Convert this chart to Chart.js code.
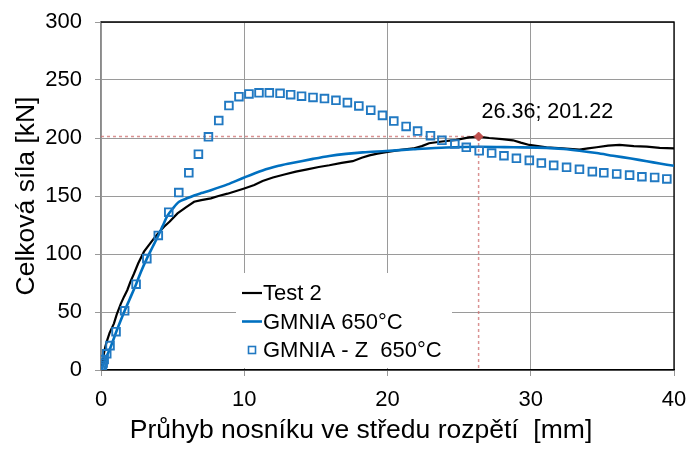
<!DOCTYPE html>
<html>
<head>
<meta charset="utf-8">
<script src="https://cdn.jsdelivr.net/npm/chart.js@4/dist/chart.umd.min.js"></script>
<style>
  html, body { margin: 0; padding: 0; background: #fff; }
  #wrap { width: 689px; height: 450px; }
</style>
</head>
<body>
<div id="wrap"><canvas id="chart" width="689" height="450"></canvas></div>
<script>
// data
const test2X = [0, 0.1, 0.2, 0.3, 0.44, 0.6, 0.9, 1.1, 1.38, 1.6, 1.84, 2.05, 2.3, 2.6, 3.0, 3.3, 3.7, 4.0, 4.4, 4.8, 5.34, 5.9, 6.5, 7.0, 7.67, 8.2, 8.83, 9.5, 10.0, 10.7, 11.28, 12.0, 12.8, 13.6, 14.4, 15.2, 15.94, 16.8, 17.57, 18.2, 18.74, 19.3, 19.9, 20.8, 21.8, 22.4, 22.9, 23.8, 24.8, 25.7, 26.36, 27.1, 28.0, 28.76, 29.3, 29.9, 30.5, 31.1, 32.2, 33.4, 34.0, 34.6, 35.4, 36.2, 37.2, 38.1, 39.0, 40];
const test2Y = [0, 6, 14, 20, 26, 32, 40, 48, 57, 63, 69, 76, 83, 92, 102, 107, 113.5, 118, 123.5, 128, 135, 140, 145, 146.5, 148, 150, 152, 154.5, 156.5, 159.5, 163, 166, 168.5, 171, 173, 175, 176.5, 178.5, 180, 183, 185, 186.5, 187.8, 189.5, 191, 193, 195.5, 197, 198.4, 200.6, 201.22, 200, 199, 198, 196, 194, 193, 192, 191, 190, 191, 192, 193.5, 194, 193, 192.5, 191.5, 191];

const gmniaX = [0, 0.3, 0.68, 1.1, 1.65, 2.0, 2.45, 2.8, 3.2, 3.6, 4.0, 4.3, 4.64, 5.0, 5.45, 6.0, 6.5, 7.0, 7.67, 8.83, 10.0, 11.28, 12.4, 13.15, 14.8, 15.94, 17.1, 18.27, 19.9, 21.8, 24.1, 26.4, 28.8, 31.1, 32.3, 33.4, 34.6, 35.75, 37.0, 38.1, 39.0, 40];
const gmniaY = [0, 9, 20, 34, 51, 61, 74, 85, 96, 106, 116, 124, 133, 139, 145, 148, 150.5, 152.5, 155, 160, 166, 172, 176, 178, 182, 184.5, 186.3, 187.6, 188.8, 190.3, 191.8, 192.4, 192, 191.5, 190.5, 189, 187, 184.7, 182.3, 180, 178, 176];

const gmniaZX = [0, 0.05, 0.1, 0.15, 0.22, 0.4, 0.63, 1.05, 1.65, 2.45, 3.2, 4.0, 4.73, 5.43, 6.13, 6.8, 7.5, 8.22, 8.93, 9.63, 10.33, 11.03, 11.75, 12.5, 13.24, 14.0, 14.8, 15.6, 16.4, 17.2, 18.0, 18.83, 19.65, 20.44, 21.3, 22.1, 23.0, 23.8, 24.7, 25.5, 26.4, 27.27, 28.13, 29.0, 29.9, 30.74, 31.6, 32.5, 33.4, 34.3, 35.1, 36.0, 36.9, 37.76, 38.65, 39.5];
const gmniaZY = [0, 2, 4, 6, 9, 14, 21, 33, 51, 74, 96, 116, 136, 153, 170, 186, 201, 215, 228, 235.6, 238, 239, 239, 238.5, 237.3, 236, 235, 234, 232.5, 230.5, 227.6, 224, 219.5, 214.6, 210, 206, 202, 198, 194.8, 192, 189, 187, 184.7, 182.5, 180.7, 178.4, 176.4, 174.7, 173, 171, 170, 169, 168, 166.6, 166, 164.7];

const peakX = 26.36;
const peakY = 201.22;

const xTicks = [0, 10, 20, 30, 40];
const yTicks = [0, 50, 100, 150, 200, 250, 300];

const seriesNames = ['Test 2', 'GMNIA 650°C', 'GMNIA - Z  650°C'];
const xTitle = 'Průhyb nosníku ve středu rozpětí  [mm]';

const FONT = '"Liberation Sans", Arial, sans-serif';
const BLACK_LINE = '#000000';
const BLUE_LINE = '#0070c0';
const BLUE_MARK = '#2179c2';
const PEAK_RED = '#c0504d';
const DASH_RED = 'rgba(205, 110, 110, 0.75)';

const pts = (xs, ys) => xs.map((x, i) => ({ x: x, y: ys[i] }));

// plot frame, x title, legend box and peak label
const extras = {
    id: 'extras',
    beforeDatasetsDraw(chart) {
        const { ctx, chartArea: a } = chart;
        ctx.save();
        ctx.strokeStyle = '#000';
        ctx.lineWidth = 1.3;
        ctx.beginPath();
        ctx.moveTo(a.left, a.top);
        ctx.lineTo(a.right, a.top);
        ctx.lineTo(a.right, a.bottom);
        ctx.stroke();
        ctx.restore();
    },
    afterDraw(chart) {
        const { ctx } = chart;
        const sx = chart.scales.x, sy = chart.scales.y;

        // x axis title, sits a bit left of the plot centre in the original
        ctx.save();
        ctx.font = '26.5px ' + FONT;
        ctx.fillStyle = '#000';
        ctx.textAlign = 'center';
        ctx.textBaseline = 'middle';
        ctx.fillText(xTitle, 361, 431);
        ctx.restore();

        // peak label
        ctx.save();
        ctx.font = '21.5px ' + FONT;
        ctx.fillStyle = '#000';
        ctx.textBaseline = 'middle';
        ctx.textAlign = 'left';
        ctx.fillText(peakX.toFixed(2) + '; ' + peakY.toFixed(2), sx.getPixelForValue(peakX) + 3, sy.getPixelForValue(peakY) - 25);
        ctx.restore();

        // legend
        const lx = 236, ly = 273, lw = 216, lh = 95;
        ctx.save();
        ctx.fillStyle = '#fff';
        ctx.fillRect(lx, ly, lw, lh);
        ctx.font = '22px ' + FONT;
        ctx.fillStyle = '#000';
        ctx.textBaseline = 'middle';
        const rows = [293, 321.5, 350];
        seriesNames.forEach((name, i) => {
            const y = rows[i];
            if (i < 2) {
                ctx.strokeStyle = i === 0 ? BLACK_LINE : BLUE_LINE;
                ctx.lineWidth = i === 0 ? 2.2 : 2.6;
                ctx.beginPath();
                ctx.moveTo(242, y);
                ctx.lineTo(262, y);
                ctx.stroke();
            } else {
                ctx.strokeStyle = BLUE_MARK;
                ctx.lineWidth = 1.6;
                ctx.strokeRect(248.5, y - 3.5, 7, 7);
            }
            ctx.fillText(name, 263, y + 1);
        });
        ctx.restore();
    }
};

const chart = new Chart(document.getElementById('chart'), {
    type: 'scatter',
    data: {
        datasets: [
            {
                label: 'peak',
                data: [{ x: peakX, y: peakY }],
                pointStyle: 'rectRot',
                pointRadius: 4.5,
                backgroundColor: PEAK_RED,
                borderColor: PEAK_RED,
                borderWidth: 1,
                order: 0
            },
            {
                label: seriesNames[2],
                data: pts(gmniaZX, gmniaZY),
                showLine: false,
                pointStyle: 'rect',
                pointRadius: 5.4,
                backgroundColor: 'rgba(255,255,255,0)',
                borderColor: BLUE_MARK,
                borderWidth: 1.9,
                order: 1
            },
            {
                label: seriesNames[1],
                data: pts(gmniaX, gmniaY),
                showLine: true,
                borderColor: BLUE_LINE,
                borderWidth: 2.6,
                pointRadius: 0,
                tension: 0.3,
                order: 2
            },
            {
                label: seriesNames[0],
                data: pts(test2X, test2Y),
                showLine: true,
                borderColor: BLACK_LINE,
                borderWidth: 2.2,
                pointRadius: 0,
                tension: 0,
                order: 3
            },
            {
                label: 'peak lines',
                data: [{ x: 0, y: peakY }, { x: peakX, y: peakY }, { x: peakX, y: 0 }],
                showLine: true,
                borderColor: DASH_RED,
                borderWidth: 1.5,
                borderDash: [3, 3],
                pointRadius: 0,
                order: 4
            }
        ]
    },
    options: {
        responsive: false,
        animation: false,
        events: [],
        layout: { padding: { top: 22, right: 15, left: 0, bottom: 0 } },
        plugins: {
            legend: { display: false },
            tooltip: { enabled: false }
        },
        scales: {
            x: {
                type: 'linear',
                min: 0,
                max: 40,
                afterFit: s => { s.height = 80; s.paddingLeft = 0; s.paddingRight = 0; },
                afterBuildTicks: s => { s.ticks = xTicks.map(v => ({ value: v })); },
                grid: { color: '#9a9a9a', lineWidth: 1, tickLength: 6, drawTicks: true },
                border: { color: '#000', width: 1.5 },
                ticks: { color: '#000', font: { family: FONT, size: 22 }, padding: 11, maxRotation: 0 },
                title: { display: false }
            },
            y: {
                type: 'linear',
                min: 0,
                max: 300,
                afterFit: s => { s.width = 101; s.paddingTop = 0; s.paddingBottom = 0; },
                afterBuildTicks: s => { s.ticks = yTicks.map(v => ({ value: v })); },
                grid: { color: '#9a9a9a', lineWidth: 1, tickLength: 6, drawTicks: true },
                border: { color: '#8a8a8a', width: 1.3 },
                ticks: { color: '#000', font: { family: FONT, size: 22 }, padding: 13 },
                title: {
                    display: true,
                    text: 'Celková síla [kN]',
                    color: '#000',
                    font: { family: FONT, size: 26.5 },
                    padding: { top: 11, bottom: 0 }
                }
            }
        }
    },
    plugins: [extras]
});
</script>
</body>
</html>
